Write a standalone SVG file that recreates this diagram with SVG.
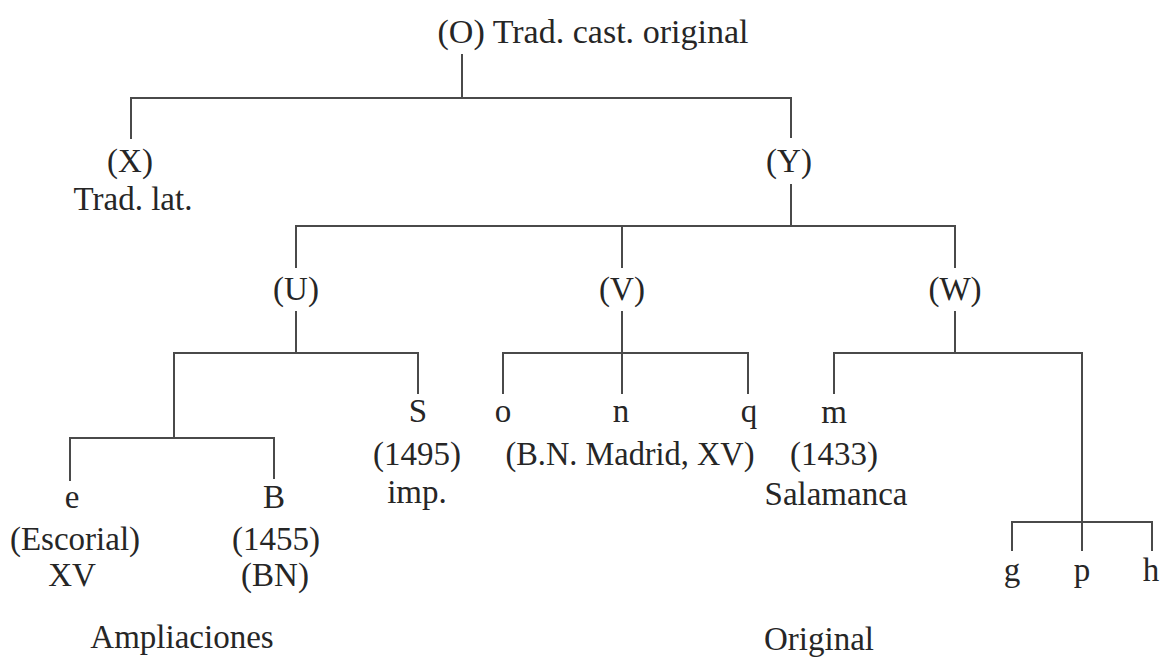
<svg xmlns="http://www.w3.org/2000/svg" width="1165" height="657" viewBox="0 0 1165 657">
<style>
text{font-family:"Liberation Serif","Times New Roman",serif;font-size:33px;fill:#262626;text-anchor:middle}
.c line{stroke:#4a4a4a;stroke-width:2;stroke-linecap:square}
</style>
<rect width="1165" height="657" fill="#ffffff"/>
<g class="c" id="connectors">
<line x1="462" y1="55" x2="462" y2="98"/>
<line x1="131" y1="98" x2="791" y2="98"/>
<line x1="131" y1="98" x2="131" y2="138"/>
<line x1="791" y1="98" x2="791" y2="137"/>
<line x1="791" y1="185" x2="791" y2="226"/>
<line x1="296" y1="226" x2="955" y2="226"/>
<line x1="296" y1="226" x2="296" y2="267"/>
<line x1="622" y1="226" x2="622" y2="267"/>
<line x1="955" y1="226" x2="955" y2="267"/>
<line x1="296" y1="312" x2="296" y2="353"/>
<line x1="174" y1="353" x2="418" y2="353"/>
<line x1="418" y1="353" x2="418" y2="393"/>
<line x1="174" y1="353" x2="174" y2="438"/>
<line x1="70" y1="438" x2="274" y2="438"/>
<line x1="70" y1="438" x2="70" y2="480"/>
<line x1="274" y1="438" x2="274" y2="478"/>
<line x1="622" y1="312" x2="622" y2="393"/>
<line x1="503" y1="353" x2="748" y2="353"/>
<line x1="503" y1="353" x2="503" y2="393"/>
<line x1="748" y1="353" x2="748" y2="393"/>
<line x1="955" y1="312" x2="955" y2="353"/>
<line x1="834" y1="353" x2="1082" y2="353"/>
<line x1="834" y1="353" x2="834" y2="393"/>
<line x1="1082" y1="353" x2="1082" y2="550"/>
<line x1="1012" y1="522" x2="1152" y2="522"/>
<line x1="1012" y1="522" x2="1012" y2="550"/>
<line x1="1152" y1="522" x2="1152" y2="550"/>
</g>
<g id="node-O"><text x="593" y="43" textLength="311" lengthAdjust="spacingAndGlyphs">(O) Trad. cast. original</text></g>
<g id="node-X"><text x="130" y="172">(X)</text><text x="133" y="210">Trad. lat.</text></g>
<g id="node-Y"><text x="789" y="172">(Y)</text></g>
<g id="node-U"><text x="296" y="300">(U)</text></g>
<g id="node-V"><text x="622" y="300">(V)</text></g>
<g id="node-W"><text x="955" y="300">(W)</text></g>
<g id="node-e"><text x="72" y="508">e</text><text x="75" y="550">(Escorial)</text><text x="72" y="586">XV</text></g>
<g id="node-B"><text x="274" y="508">B</text><text x="276" y="550">(1455)</text><text x="275" y="586">(BN)</text></g>
<g id="node-S"><text x="418" y="422">S</text><text x="417" y="465">(1495)</text><text x="417" y="503">imp.</text></g>
<g id="node-o"><text x="503" y="422">o</text></g>
<g id="node-n"><text x="621" y="422">n</text></g>
<g id="node-q"><text x="749" y="422">q</text></g>
<g id="label-BN-Madrid"><text x="630" y="465" textLength="249" lengthAdjust="spacingAndGlyphs">(B.N. Madrid, XV)</text></g>
<g id="node-m"><text x="834" y="423">m</text><text x="834" y="465">(1433)</text><text x="836" y="505">Salamanca</text></g>
<g id="node-g"><text x="1012" y="581">g</text></g>
<g id="node-p"><text x="1082" y="581">p</text></g>
<g id="node-h"><text x="1151" y="581">h</text></g>
<g id="label-Ampliaciones"><text x="182" y="648">Ampliaciones</text></g>
<g id="label-Original"><text x="819" y="650">Original</text></g>
</svg>
